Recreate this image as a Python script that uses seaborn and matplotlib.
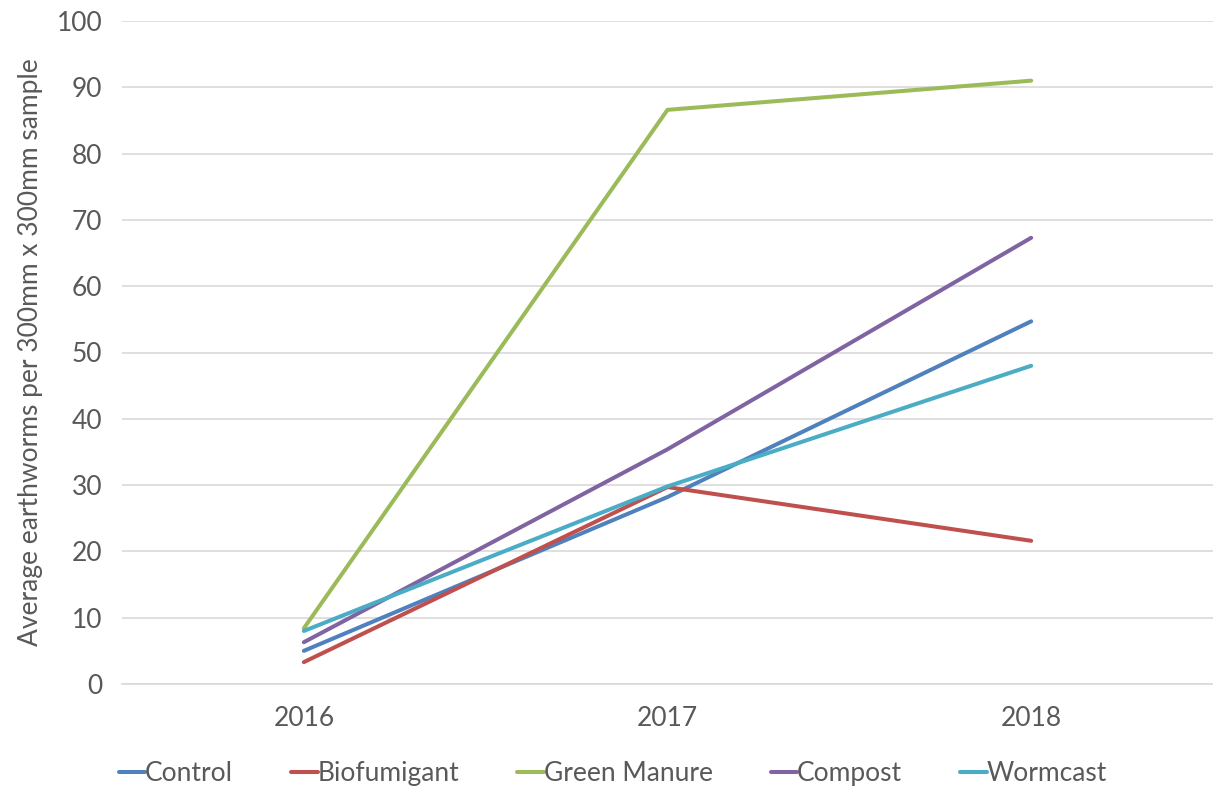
import matplotlib
matplotlib.use("Agg")
import matplotlib.pyplot as plt
import seaborn as sns
import pandas as pd

years = ["2016", "2017", "2018"]
series_names = ["Control", "Biofumigant", "Green Manure", "Compost", "Wormcast"]
control = [5.0, 28.2, 54.7]
biofumigant = [3.3, 29.7, 21.6]
green_manure = [8.4, 86.6, 91.0]
compost = [6.3, 35.4, 67.3]
wormcast = [8.0, 29.8, 48.0]
colors = ["#4F81BD", "#C0504D", "#9BBB59", "#8064A2", "#4BACC6"]
y_ticks = [0, 10, 20, 30, 40, 50, 60, 70, 80, 90, 100]
y_label = "Average earthworms per 300mm x 300mm sample"

values = [control, biofumigant, green_manure, compost, wormcast]
rows = []
for name, vals in zip(series_names, values):
    for yr, v in zip(years, vals):
        rows.append({"Year": yr, "Value": v, "Series": name})
df = pd.DataFrame(rows)

sns.set_theme(style="white")
plt.rcParams['font.family'] = ['Lato', 'DejaVu Sans']

FS = 19
fig = plt.figure(figsize=(12.13, 7.89), dpi=100)
ax = fig.add_axes([122/1213, 1-684/789, 1-122/1213, (684-21)/789])

sns.lineplot(data=df, x="Year", y="Value", hue="Series", hue_order=series_names,
             palette=colors, linewidth=2.9, ax=ax, sort=False)

ax.set_xlim(-0.5, 2.5)
ax.set_ylim(0, 100)
ax.set_yticks(y_ticks)
ax.yaxis.grid(True, color="#D9D9D9", linewidth=1.2)
ax.set_axisbelow(True)
for s in ["top", "right", "left"]:
    ax.spines[s].set_visible(False)
ax.spines["bottom"].set_color("#D9D9D9")
ax.spines["bottom"].set_linewidth(1.2)
ax.tick_params(axis="both", length=0, labelsize=FS, colors="#595959")
ax.tick_params(axis="y", pad=14)
ax.tick_params(axis="x", pad=16)
ax.set_xlabel("")
ax.set_ylabel(y_label, fontsize=FS, color="#595959", labelpad=10)

handles, labels = ax.get_legend_handles_labels()
leg = ax.legend(handles, labels, loc="center", bbox_to_anchor=(0.5 - 0.05, -0.135),
                ncol=5, frameon=False, fontsize=FS, handlelength=1.0,
                handletextpad=0.0, columnspacing=2.2)
for t in leg.get_texts():
    t.set_color("#595959")

fig.savefig("out.png", dpi=100)
